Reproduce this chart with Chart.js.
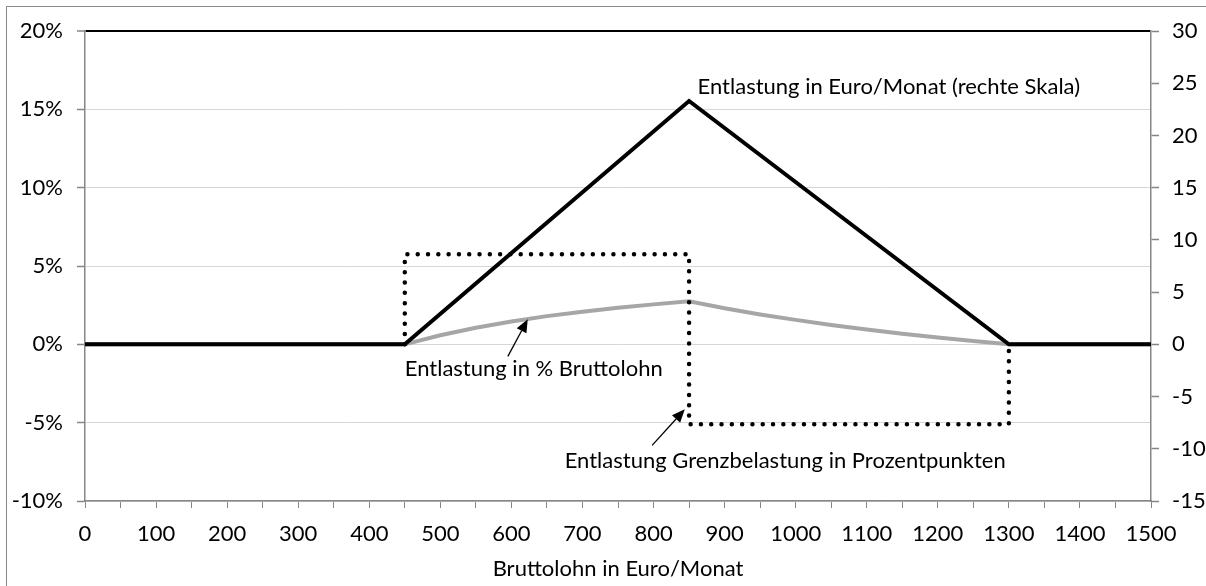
<!DOCTYPE html>
<html lang="de">
<head>
<meta charset="utf-8">
<title>Entlastung Bruttolohn</title>
<script src="https://cdn.jsdelivr.net/npm/chart.js@4.4.1/dist/chart.umd.min.js"></script>
<style>
    html, body { margin: 0; padding: 0; background: #fff; }
    #wrap { position: relative; width: 1206px; height: 586px; }
    #frame {
        position: absolute; left: 6px; top: 6px; right: -10px; bottom: -10px;
        border-left: 1px solid #8a8a8a; border-top: 1px solid #8a8a8a;
        pointer-events: none;
    }
</style>
</head>
<body>
<div id="wrap">
    <canvas id="chart" width="1206" height="586"></canvas>
    <div id="frame"></div>
</div>
<script>
// Entlastung in Euro/Monat (rechte Skala) - Knickpunkte
var lohnEuro = [0, 450, 850, 1300, 1500];
var entlastungEuro = [0, 0, 23.3, 0, 0];

// Entlastung in % Bruttolohn
var lohnProzent = [0, 450, 500, 550, 600, 650, 700, 750, 800, 850, 900, 950, 1000, 1050, 1100, 1150, 1200, 1250, 1300, 1500];
var entlastungProzent = [0, 0, 0.58, 1.06, 1.46, 1.8, 2.08, 2.33, 2.55, 2.75, 2.3, 1.91, 1.56, 1.24, 0.94, 0.68, 0.43, 0.21, 0, 0];

// Entlastung Grenzbelastung in Prozentpunkten
var lohnGrenz = [450, 450, 850, 850, 1300, 1300];
var grenzbelastung = [0, 5.75, 5.75, -5.1, -5.1, 0];

// Achsen
var xTicks = { min: 0, max: 1500, step: 50 };
var yLinks = { min: -10, max: 20, step: 5 };
var yRechts = { min: -15, max: 30, step: 5 };

// Beschriftungen im Diagramm: [text, x, y (linke Skala)]
var beschriftungen = [
    ['Entlastung in Euro/Monat (rechte Skala)', 862, 16.4],
    ['Entlastung in % Bruttolohn', 450, -1.6],
    ['Entlastung Grenzbelastung in Prozentpunkten', 675, -7.45]
];
// Pfeile: [x von, y von, x nach, y nach]
var pfeile = [
    [595, -0.77, 623, 1.6],
    [798, -6.45, 844, -4.15]
];

function toPoints(xs, ys) {
    return xs.map(function (x, i) { return { x: x, y: ys[i] }; });
}

var schrift = '22px Lato';
var achsenGrau = '#868686';

var textPlugin = {
    id: 'beschriftung',
    afterDatasetsDraw: function (chart) {
        var ctx = chart.ctx;
        var xs = chart.scales.x, ys = chart.scales.y;
        ctx.save();
        ctx.fillStyle = '#000';
        ctx.font = schrift;
        ctx.textBaseline = 'middle';
        ctx.textAlign = 'left';
        beschriftungen.forEach(function (b) {
            ctx.fillText(b[0], xs.getPixelForValue(b[1]), ys.getPixelForValue(b[2]));
        });
        // arrows
        ctx.strokeStyle = '#000';
        ctx.lineWidth = 1.3;
        pfeile.forEach(function (p) {
            var x1 = xs.getPixelForValue(p[0]), y1 = ys.getPixelForValue(p[1]);
            var x2 = xs.getPixelForValue(p[2]), y2 = ys.getPixelForValue(p[3]);
            var ang = Math.atan2(y2 - y1, x2 - x1);
            var len = 13, half = 5.5;
            var bx = x2 - len * Math.cos(ang), by = y2 - len * Math.sin(ang);
            ctx.beginPath();
            ctx.moveTo(x1, y1);
            ctx.lineTo(bx, by);
            ctx.stroke();
            ctx.beginPath();
            ctx.moveTo(x2, y2);
            ctx.lineTo(bx + half * Math.sin(ang), by - half * Math.cos(ang));
            ctx.lineTo(bx - half * Math.sin(ang), by + half * Math.cos(ang));
            ctx.closePath();
            ctx.fill();
        });
        ctx.restore();
    }
};

Chart.defaults.font.family = 'Lato';
Chart.defaults.font.size = 22;
Chart.defaults.color = '#000';

new Chart(document.getElementById('chart').getContext('2d'), {
    type: 'line',
    data: {
        datasets: [
            {
                label: 'Entlastung in % Bruttolohn',
                data: toPoints(lohnProzent, entlastungProzent),
                borderColor: '#a6a6a6',
                borderWidth: 4,
                pointRadius: 0,
                tension: 0,
                order: 3,
                yAxisID: 'y'
            },
            {
                label: 'Entlastung in Euro/Monat',
                data: toPoints(lohnEuro, entlastungEuro),
                borderColor: '#000',
                borderWidth: 4,
                pointRadius: 0,
                tension: 0,
                order: 1,
                yAxisID: 'y2'
            },
            {
                label: 'Entlastung Grenzbelastung',
                data: toPoints(lohnGrenz, grenzbelastung),
                borderColor: '#000',
                borderWidth: 4.5,
                borderDash: [0, 10.3],
                borderCapStyle: 'round',
                pointRadius: 0,
                tension: 0,
                order: 2,
                yAxisID: 'y'
            }
        ]
    },
    options: {
        responsive: false,
        animation: false,
        layout: { padding: { top: 31, left: 0, right: 0, bottom: 0 } },
        plugins: { legend: { display: false }, tooltip: { enabled: false } },
        scales: {
            x: {
                type: 'linear',
                min: xTicks.min,
                max: xTicks.max,
                afterFit: function (s) { s.height = 85; },
                ticks: {
                    stepSize: xTicks.step,
                    autoSkip: false,
                    maxRotation: 0,
                    padding: 13,
                    callback: function (v) { return v % 100 === 0 ? String(v) : ''; }
                },
                grid: { drawOnChartArea: false, tickLength: 7, color: achsenGrau, tickColor: achsenGrau },
                border: { color: achsenGrau, width: 1.5 },
                title: { display: true, text: 'Bruttolohn in Euro/Monat', padding: { top: 5, bottom: 4 } }
            },
            y: {
                position: 'left',
                min: yLinks.min,
                max: yLinks.max,
                afterFit: function (s) { s.width = 85; },
                ticks: {
                    stepSize: yLinks.step,
                    padding: 14,
                    callback: function (v) { return v + '%'; }
                },
                grid: {
                    tickLength: 8,
                    tickColor: achsenGrau,
                    tickWidth: 1.5,
                    color: function (c) { return c.tick && c.tick.value === yLinks.max ? '#000' : '#d6d6d6'; },
                    lineWidth: function (c) { return c.tick && c.tick.value === yLinks.max ? 2 : 1; }
                },
                border: { color: achsenGrau, width: 1.5 }
            },
            y2: {
                position: 'right',
                min: yRechts.min,
                max: yRechts.max,
                afterFit: function (s) { s.width = 55; },
                ticks: { stepSize: yRechts.step, padding: 13 },
                grid: { drawOnChartArea: false, tickLength: 8, color: achsenGrau, tickColor: achsenGrau, tickWidth: 1.5 },
                border: { color: achsenGrau, width: 1.5 }
            }
        }
    },
    plugins: [textPlugin]
});
</script>
</body>
</html>
